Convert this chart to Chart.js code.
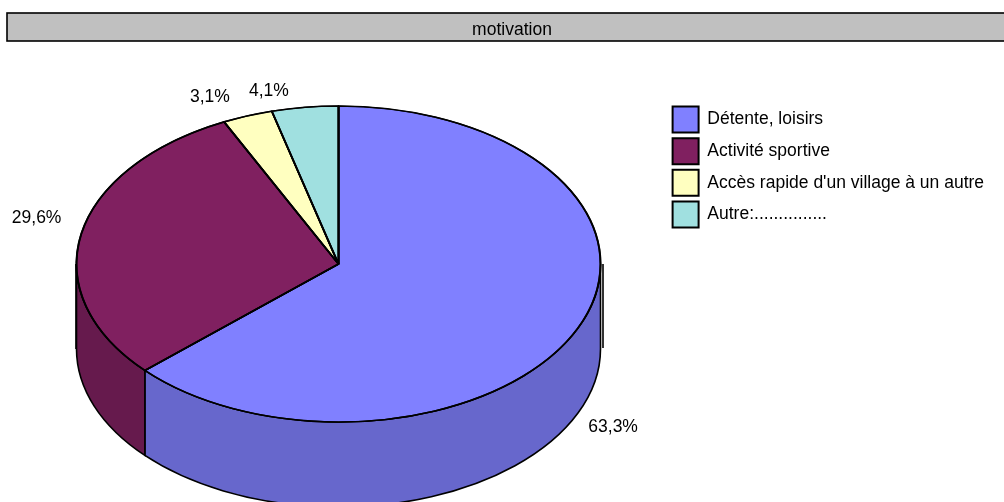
<!DOCTYPE html>
<html>
<head>
<meta charset="utf-8">
<title>motivation</title>
<script src="https://cdn.jsdelivr.net/npm/chart.js@4"></script>
<style>
	html, body { margin: 0; padding: 0; background: #fff; }
	canvas { display: block; }
</style>
</head>
<body>
<canvas id="chart" width="1004" height="502"></canvas>
<script>
const chartTitle = 'motivation';
const categories = ['Détente, loisirs', 'Activité sportive', "Accès rapide d'un village à un autre", 'Autre:...............'];
const shares = [63.3, 29.6, 3.1, 4.1];
const topColors = ['#8080ff', '#802060', '#ffffc0', '#a0e0e0'];
const sideColors = ['#6767cc', '#661a4d', '#cccc9a', '#80b3b3'];
const labelNudgeX = [-1, -6, -24, -31];
const labelNudgeY = [90, -12, 4, 7];

const radius = 262;
const squash = 158 / 262;
const depth = 85;
const fontName = '"Liberation Sans", Arial, sans-serif';
const fontSize = 17.5;

// Chart.js only has flat pies, so the arcs are squashed here and the rim is added below them
const tiltedPie = {
	id: 'tiltedPie',
	beforeDraw(chart) {
		let ctx = chart.ctx;
		ctx.save();
		ctx.fillStyle = '#c0c0c0';
		ctx.strokeStyle = '#000';
		ctx.lineWidth = 1.6;
		ctx.fillRect(7, 13, 1010, 28);
		ctx.strokeRect(7, 13, 1010, 28);
		ctx.restore();
	},
	afterLayout(chart) {
		chart.titleBlock.left = 22;
		chart.titleBlock.right = 1002;
		chart.titleBlock.top = 20;
		chart.titleBlock.bottom = 41;
		chart.legend.left = 667;
		chart.legend.right = 1000;
		chart.legend.top = 101;
		chart.legend.bottom = 241;
	},
	beforeDatasetsDraw(chart) {
		let ctx = chart.ctx;
		let arcs = chart.getDatasetMeta(0).data;
		let cx = arcs[0].x;
		let cy = arcs[0].y;

		ctx.save();
		ctx.strokeStyle = '#000';
		ctx.lineWidth = 1.6;
		arcs.forEach((arc, i) => {
			let s = Math.max(arc.startAngle, 0);
			let e = Math.min(arc.endAngle, Math.PI);
			if(s>=e)
				return;
			ctx.beginPath();
			ctx.ellipse(cx, cy, radius, radius*squash, 0, s, e);
			ctx.ellipse(cx, cy+depth, radius, radius*squash, 0, e, s, true);
			ctx.closePath();
			ctx.fillStyle = sideColors[i];
			ctx.fill();
			ctx.stroke();
		});

		// the two loose edges of the rim sit just outside the ellipse
		ctx.beginPath();
		ctx.moveTo(cx+radius+2.5, cy);
		ctx.lineTo(cx+radius+2.5, cy+depth-1);
		ctx.moveTo(cx-radius-0.5, cy);
		ctx.lineTo(cx-radius-0.5, cy+depth);
		ctx.stroke();
		ctx.restore();

		ctx.save();
		ctx.translate(cx, cy);
		ctx.scale(1, squash);
		ctx.translate(-cx, -cy);
	},
	afterDatasetsDraw(chart) {
		let ctx = chart.ctx;
		ctx.restore();

		let arcs = chart.getDatasetMeta(0).data;
		ctx.save();
		ctx.strokeStyle = '#000';
		ctx.lineWidth = 1.6;
		ctx.lineJoin = 'round';
		arcs.forEach(arc => {
			ctx.beginPath();
			ctx.moveTo(arc.x, arc.y);
			ctx.ellipse(arc.x, arc.y, radius, radius*squash, 0, arc.startAngle, arc.endAngle);
			ctx.closePath();
			ctx.stroke();
		});

		ctx.fillStyle = '#000';
		ctx.font = fontSize + 'px ' + fontName;
		ctx.textAlign = 'center';
		ctx.textBaseline = 'middle';
		arcs.forEach((arc, i) => {
			let mid = (arc.startAngle + arc.endAngle) / 2;
			let x = arc.x + 1.15*radius*Math.cos(mid) + labelNudgeX[i];
			let y = arc.y + 1.15*radius*squash*Math.sin(mid) + labelNudgeY[i];
			ctx.fillText(shares[i].toFixed(1).replace('.', ',') + '%', x, y);
		});
		ctx.restore();
	},
};

new Chart(document.getElementById('chart'), {
	type: 'pie',
	data: {
		labels: categories,
		datasets: [
			{
				data: shares,
				backgroundColor: topColors,
				borderColor: '#000',
				borderWidth: 2,
				radius: radius,
				clip: false,
			},
		],
	},
	options: {
		responsive: false,
		animation: false,
		events: [],
		layout: {
			padding: {left: 0, right: 327, top: 5, bottom: 0},
		},
		plugins: {
			tooltip: {enabled: false},
			title: {
				display: true,
				text: chartTitle,
				color: '#000',
				padding: 0,
				font: {family: fontName, size: fontSize, weight: 'normal', lineHeight: 1.2},
			},
			legend: {
				display: true,
				position: 'chartArea',
				align: 'start',
				labels: {
					color: '#000',
					boxWidth: 26,
					boxHeight: 26,
					padding: 5.6,
					font: {family: fontName, size: fontSize},
				},
			},
		},
	},
	plugins: [tiltedPie],
});
</script>
</body>
</html>
